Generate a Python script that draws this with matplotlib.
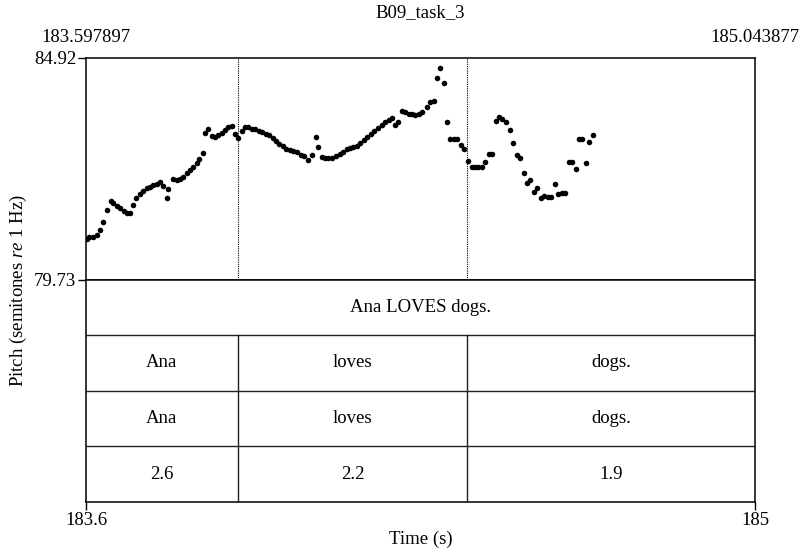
import numpy as np
import matplotlib
matplotlib.use("Agg")
import matplotlib.pyplot as plt

plt.rcParams["font.family"] = ["Liberation Serif", "DejaVu Serif"]
plt.rcParams["mathtext.fontset"] = "custom"
plt.rcParams["mathtext.rm"] = "Liberation Serif"
plt.rcParams["mathtext.it"] = "Liberation Serif:italic"

# time window and pitch range (semitones re 1 Hz)
t_start, t_end = 183.597897, 185.043877
p_min, p_max = 79.73, 84.92

# pitch track
times = [
    183.599, 183.604, 183.613, 183.621, 183.628, 183.635, 183.643, 183.651,
    183.657, 183.664, 183.671, 183.679, 183.686, 183.693, 183.700, 183.707,
    183.715, 183.722, 183.729, 183.736, 183.743, 183.751, 183.758, 183.764,
    183.772, 183.776, 183.787, 183.794, 183.801, 183.808, 183.816, 183.823,
    183.830, 183.837, 183.843, 183.850, 183.855, 183.861, 183.870, 183.877,
    183.884, 183.891, 183.898, 183.905, 183.913, 183.920, 183.927, 183.934,
    183.942, 183.949, 183.956, 183.963, 183.971, 183.978, 183.986, 183.993,
    184.001, 184.009, 184.016, 184.024, 184.031, 184.039, 184.046, 184.054,
    184.062, 184.069, 184.078, 184.086, 184.095, 184.100, 184.107, 184.114,
    184.122, 184.130, 184.138, 184.146, 184.153, 184.161, 184.168, 184.176,
    184.184, 184.191, 184.199, 184.206, 184.214, 184.221, 184.229, 184.237,
    184.244, 184.252, 184.259, 184.266, 184.273, 184.280, 184.287, 184.295,
    184.303, 184.310, 184.318, 184.324, 184.334, 184.341, 184.349, 184.356,
    184.363, 184.371, 184.378, 184.385, 184.393, 184.400, 184.408, 184.415,
    184.424, 184.432, 184.439, 184.446, 184.453, 184.461, 184.469, 184.476,
    184.483, 184.491, 184.498, 184.506, 184.514, 184.521, 184.529, 184.536,
    184.544, 184.551, 184.558, 184.566, 184.573, 184.581, 184.588, 184.596,
    184.603, 184.612, 184.619, 184.626, 184.633, 184.641, 184.649, 184.656,
    184.664, 184.671, 184.678, 184.685, 184.693,
]
pitch = [
    80.68, 80.72, 80.73, 80.77, 80.89, 81.08, 81.36, 81.57,
    81.51, 81.45, 81.39, 81.34, 81.29, 81.29, 81.47, 81.63,
    81.73, 81.81, 81.86, 81.90, 81.94, 81.97, 82.00, 81.92,
    81.63, 81.85, 82.07, 82.06, 82.08, 82.13, 82.21, 82.29,
    82.37, 82.45, 82.54, 82.68, 83.16, 83.24, 83.08, 83.07,
    83.11, 83.16, 83.23, 83.29, 83.32, 83.13, 83.03, 83.21,
    83.30, 83.29, 83.26, 83.24, 83.21, 83.19, 83.14, 83.10,
    83.03, 82.96, 82.90, 82.84, 82.79, 82.76, 82.73, 82.70,
    82.65, 82.62, 82.52, 82.64, 83.05, 82.83, 82.60, 82.57,
    82.56, 82.56, 82.61, 82.66, 82.72, 82.77, 82.80, 82.83,
    82.86, 82.91, 82.98, 83.05, 83.13, 83.21, 83.28, 83.35,
    83.42, 83.47, 83.51, 83.34, 83.42, 83.68, 83.65, 83.61,
    83.59, 83.58, 83.61, 83.65, 83.77, 83.89, 83.91, 84.43,
    84.67, 84.32, 83.42, 83.01, 83.01, 83.01, 82.87, 82.79,
    82.50, 82.37, 82.37, 82.37, 82.36, 82.48, 82.66, 82.66,
    83.44, 83.53, 83.49, 83.41, 83.23, 82.91, 82.65, 82.56,
    82.22, 81.99, 82.06, 81.78, 81.86, 81.63, 81.69, 81.67,
    81.66, 81.96, 81.73, 81.76, 81.75, 82.48, 82.48, 82.31,
    83.01, 83.01, 82.46, 82.95, 83.10,
]

# textgrid
boundaries = [183.9264, 184.4220]
sentence = "Ana LOVES dogs."
words = ["Ana", "loves", "dogs."]
words2 = ["Ana", "loves", "dogs."]
scores = ["2.6", "2.2", "1.9"]

W, H = 801, 549
fs = 13.5
fig = plt.figure(figsize=(W / 100, H / 100), dpi=100)

ax = fig.add_axes([86 / W, 1 - 279.5 / H, 669 / W, 222 / H])
axt = fig.add_axes([86 / W, 1 - 502 / H, 669 / W, 222.5 / H])

# pitch panel
ax.scatter(times, pitch, s=16, color="black", linewidths=0, zorder=3)
for b in boundaries:
    ax.axvline(b, color="black", linestyle=(0, (1, 1)), linewidth=0.8)
ax.set_xlim(t_start, t_end)
ax.set_ylim(p_min, p_max)
ax.set_xticks([])
ax.set_yticks([p_min, p_max])
ax.set_yticklabels([f"{p_min:.2f}", f"{p_max:.2f}"], fontsize=fs)
ax.tick_params(axis="y", direction="out", length=6, width=1, pad=1)
for sp in ax.spines.values():
    sp.set_linewidth(1.1)
top_y = 1 - 38 / H
fig.text(86 / W, top_y, f"{t_start:.6f}", ha="center", va="center", fontsize=fs)
fig.text(755 / W, top_y, f"{t_end:.6f}", ha="center", va="center", fontsize=fs)
fig.text(420 / W, 1 - 13 / H, "B09_task_3", ha="center", va="center", fontsize=fs)

# tiers panel
edges = [t_start] + boundaries + [t_end]
axt.set_xlim(t_start, t_end)
axt.set_ylim(0, 4)
for y in [1, 2, 3]:
    axt.axhline(y, color="#222222", linewidth=1.0)
for b in boundaries:
    axt.plot([b, b], [0, 3], color="#222222", linewidth=1.0)
axt.text((t_start + t_end) / 2, 3.5, sentence, ha="center", va="center", fontsize=fs)
for row, labels in zip([2.5, 1.5, 0.5], [words, words2, scores]):
    for i, lab in enumerate(labels):
        axt.text((edges[i] + edges[i + 1]) / 2, row, lab, ha="center", va="center", fontsize=fs)
axt.set_yticks([])
axt.set_xticks([t_start, t_end])
axt.set_xticklabels([f"{t_start:.1f}", f"{t_end:.0f}"], fontsize=fs)
axt.tick_params(axis="x", direction="out", length=6, width=1, pad=1)
for sp in axt.spines.values():
    sp.set_linewidth(1.1)
fig.text(421 / W, 1 - 539 / H, "Time (s)", ha="center", va="center", fontsize=fs)

fig.text(18 / W, 1 - 291 / H, "Pitch (semitones $\\it{re}$ 1 Hz)", rotation=90,
         ha="center", va="center", fontsize=fs)

fig.savefig("out.png", dpi=100)
